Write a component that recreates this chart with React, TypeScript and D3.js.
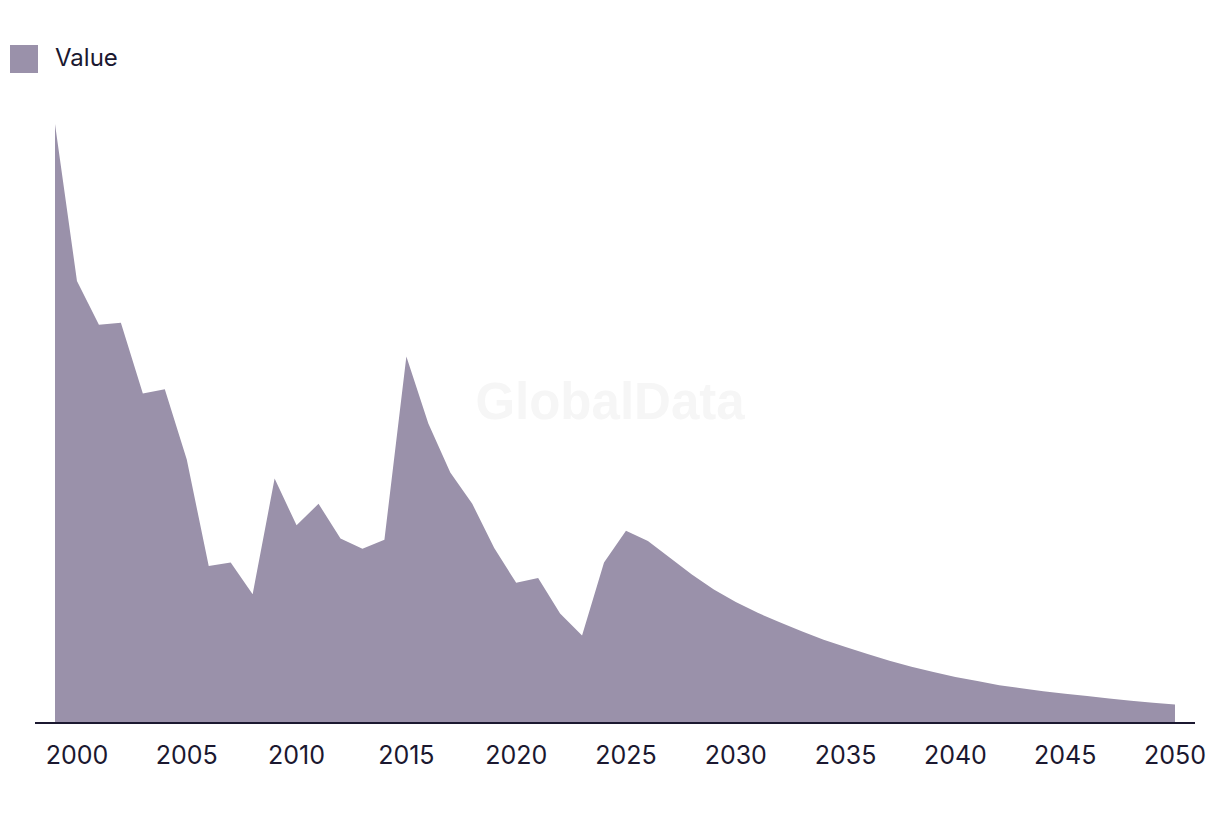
import React from "react";
import * as d3 from "d3";

const years: number[] = [
  1999, 2000, 2001, 2002, 2003, 2004, 2005, 2006, 2007, 2008, 2009, 2010, 2011, 2012, 2013, 2014,
  2015, 2016, 2017, 2018, 2019, 2020, 2021, 2022, 2023, 2024, 2025, 2026, 2027, 2028, 2029, 2030,
  2031, 2032, 2033, 2034, 2035, 2036, 2037, 2038, 2039, 2040, 2041, 2042, 2043, 2044, 2045, 2046,
  2047, 2048, 2049, 2050,
];

const values: number[] = [
  100, 73.8, 66.5, 66.8, 55.0, 55.7, 44.0, 26.2, 26.8, 21.5, 40.8, 33.0, 36.6, 30.8, 29.1, 30.6,
  61.2, 50.0, 41.8, 36.6, 29.2, 23.4, 24.2, 18.3, 14.6, 26.8, 32.1, 30.4, 27.6, 24.8, 22.3, 20.2,
  18.4, 16.8, 15.3, 13.9, 12.7, 11.5, 10.4, 9.4, 8.5, 7.7, 7.0, 6.3, 5.8, 5.3, 4.9, 4.5,
  4.1, 3.7, 3.4, 3.1,
];

const tickYears: number[] = [2000, 2005, 2010, 2015, 2020, 2025, 2030, 2035, 2040, 2045, 2050];

const seriesName = "Value";
const fillColor = "#9a91aa";
const textColor = "#1b1830";

export default function App() {
  const width = 1220;
  const height = 814;
  const x = d3.scaleLinear().domain([1999, 2050]).range([55, 1175]);
  const y = d3.scaleLinear().domain([0, 100]).range([723, 124]);

  const data = years.map((yr, i) => ({ yr, v: values[i] }));
  const area = d3
    .area<{ yr: number; v: number }>()
    .x((d) => x(d.yr))
    .y0(y(0))
    .y1((d) => y(d.v))
    .curve(d3.curveLinear);

  const font = "Inter, 'Liberation Sans', Arial, sans-serif";

  return (
    <svg
      width={width}
      height={height}
      style={{ position: "absolute", left: 0, top: 0, background: "#fff" }}
    >
      <rect x={0} y={0} width={width} height={height} fill="#ffffff" />
      <text
        x={610}
        y={406}
        textAnchor="middle"
        dominantBaseline="middle"
        fontFamily="'Liberation Sans', Arial, sans-serif"
        fontWeight={700}
        fontSize={51}
        fill="#f6f6f6"
      >
        GlobalData
      </text>
      <path d={area(data) || ""} fill={fillColor} />
      <line x1={35} x2={1195} y1={723} y2={723} stroke={textColor} strokeWidth={2} />
      {tickYears.map((t) => (
        <text
          key={t}
          x={x(t)}
          y={764}
          textAnchor="middle"
          fontFamily={font}
          fontSize={25}
          fill={textColor}
        >
          {t}
        </text>
      ))}
      <rect x={10} y={45} width={28} height={28} fill={fillColor} />
      <text x={55} y={66} fontFamily={font} fontSize={24} fill={textColor}>
        {seriesName}
      </text>
    </svg>
  );
}
